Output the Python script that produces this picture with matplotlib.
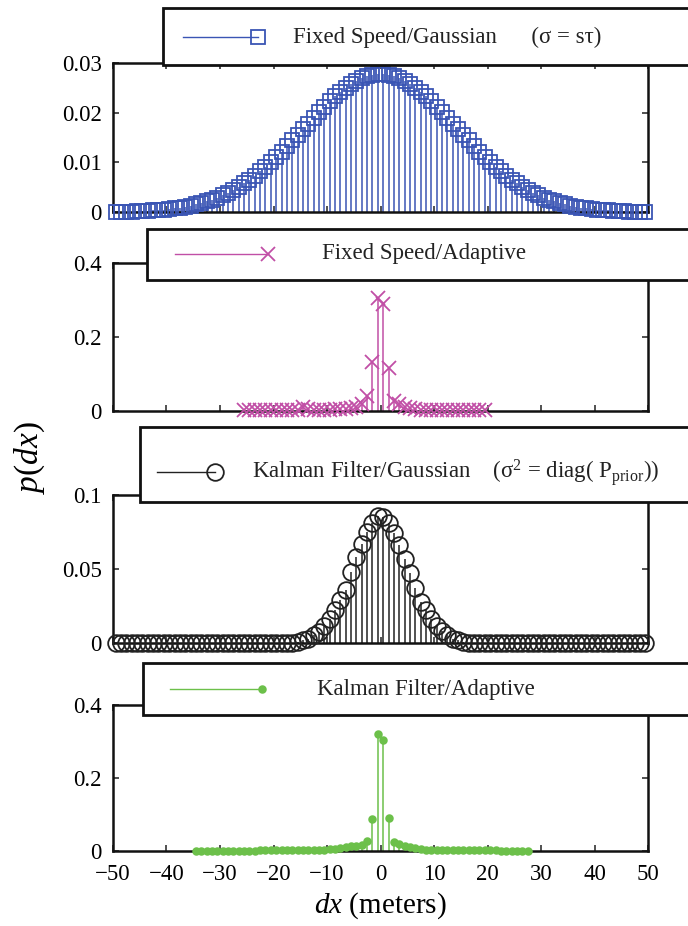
import numpy as np
import matplotlib
matplotlib.use("Agg")
import matplotlib.pyplot as plt
from matplotlib.patches import Rectangle
from matplotlib.lines import Line2D

plt.rcParams['font.family'] = ['Liberation Serif', 'DejaVu Serif']
plt.rcParams['mathtext.fontset'] = 'custom'
plt.rcParams['mathtext.rm'] = 'Liberation Serif'
plt.rcParams['mathtext.it'] = 'Liberation Serif:italic'

# bins (meters), centred on half metres
dx_full = np.arange(-49.5, 50.0, 1.0)
dx_fs_adapt = np.arange(-25.5, 20.0, 1.0)
dx_kf_adapt = np.arange(-34.5, 28.0, 1.0)

# Fixed Speed / Gaussian
p_fs_gauss = [
    0.0001, 0.0001, 0.0001, 0.0001, 0.0002, 0.0002, 0.0003, 0.0004, 0.0004, 0.0005,
    0.0006, 0.0008, 0.0009, 0.0011, 0.0013, 0.0016, 0.0018, 0.0022, 0.0025, 0.0029,
    0.0034, 0.0039, 0.0045, 0.0051, 0.0058, 0.0065, 0.0073, 0.0082, 0.0091, 0.0100,
    0.0111, 0.0121, 0.0132, 0.0144, 0.0155, 0.0167, 0.0178, 0.0190, 0.0201, 0.0212,
    0.0223, 0.0233, 0.0242, 0.0250, 0.0257, 0.0264, 0.0269, 0.0273, 0.0275, 0.0277,
    0.0277, 0.0275, 0.0273, 0.0269, 0.0264, 0.0257, 0.0250, 0.0242, 0.0233, 0.0223,
    0.0212, 0.0201, 0.0190, 0.0178, 0.0167, 0.0155, 0.0144, 0.0132, 0.0121, 0.0111,
    0.0100, 0.0091, 0.0082, 0.0073, 0.0065, 0.0058, 0.0051, 0.0045, 0.0039, 0.0034,
    0.0029, 0.0025, 0.0022, 0.0018, 0.0016, 0.0013, 0.0011, 0.0009, 0.0008, 0.0006,
    0.0005, 0.0004, 0.0004, 0.0003, 0.0002, 0.0002, 0.0001, 0.0001, 0.0001, 0.0001,
]

# Fixed Speed / Adaptive
p_fs_adapt = [
    0.002, 0.002, 0.002, 0.002, 0.002, 0.002, 0.002, 0.002, 0.002, 0.003,
    0.004, 0.012, 0.005, 0.004, 0.004, 0.004, 0.004, 0.005, 0.005, 0.006,
    0.007, 0.010, 0.020, 0.040, 0.132, 0.305, 0.288, 0.117, 0.028, 0.019,
    0.012, 0.008, 0.006, 0.004, 0.003, 0.003, 0.002, 0.002, 0.002, 0.002,
    0.002, 0.002, 0.002, 0.002, 0.002, 0.002,
]

# Kalman Filter / Gaussian
p_kf_gauss = [
    0.0, 0.0, 0.0, 0.0, 0.0, 0.0, 0.0, 0.0, 0.0, 0.0,
    0.0, 0.0, 0.0, 0.0, 0.0, 0.0, 0.0, 0.0, 0.0, 0.0,
    0.0, 0.0, 0.0, 0.0, 0.0, 0.0, 0.0, 0.0, 0.0, 0.0,
    0.0, 0.0, 0.0, 0.0, 0.001, 0.002, 0.003, 0.0054, 0.0077, 0.0115,
    0.0165, 0.022, 0.029, 0.036, 0.048, 0.058, 0.067, 0.075, 0.081, 0.086,
    0.085, 0.081, 0.074, 0.066, 0.057, 0.047, 0.037, 0.028, 0.022, 0.016,
    0.0115, 0.0078, 0.0053, 0.003, 0.002, 0.001, 0.0, 0.0, 0.0, 0.0,
    0.0, 0.0, 0.0, 0.0, 0.0, 0.0, 0.0, 0.0, 0.0, 0.0,
    0.0, 0.0, 0.0, 0.0, 0.0, 0.0, 0.0, 0.0, 0.0, 0.0,
    0.0, 0.0, 0.0, 0.0, 0.0, 0.0, 0.0, 0.0, 0.0, 0.0,
]

# Kalman Filter / Adaptive
p_kf_adapt = [
    0.001, 0.001, 0.001, 0.001, 0.001, 0.001, 0.001, 0.001, 0.001, 0.001,
    0.001, 0.001, 0.0015, 0.0015, 0.0015, 0.0015, 0.0015, 0.0015, 0.0015, 0.002,
    0.002, 0.0025, 0.003, 0.003, 0.004, 0.005, 0.006, 0.008, 0.010, 0.013,
    0.015, 0.017, 0.027, 0.087, 0.320, 0.305, 0.090, 0.026, 0.020, 0.015,
    0.010, 0.008, 0.005, 0.004, 0.003, 0.003, 0.003, 0.0025, 0.0025, 0.002,
    0.002, 0.002, 0.002, 0.0015, 0.0015, 0.0015, 0.0015, 0.001, 0.001, 0.001,
    0.001, 0.001, 0.001,
]

labels = [
    'Fixed Speed/Gaussian      (σ = sτ)',
    'Fixed Speed/Adaptive',
    'Kalman Filter/Gaussian    (σ$^{2}$ = diag( P$_{\\mathrm{prior}}$))',
    'Kalman Filter/Adaptive',
]

W, H = 688, 926
fig = plt.figure(figsize=(W / 100, H / 100), dpi=100)


def fx(px):
    return px / W


def fy(py):
    return 1 - py / H


panels = [
    # (x, y, color, marker, size, filled, ylim, yticks, yticklabels, top px, bottom px,
    #  box left, box top, box bottom, handle x0, x1, y, text x)
    (dx_full, p_fs_gauss, '#3a55b4', 's', 9.5, False, 0.03, [0, 0.01, 0.02, 0.03],
     ['0', '0.01', '0.02', '0.03'], 63, 212, 163, 8, 65, 183, 258, 37, 293),
    (dx_fs_adapt, p_fs_adapt, '#c14fa6', 'x', 9.5, False, 0.4, [0, 0.2, 0.4],
     ['0', '0.2', '0.4'], 263, 411, 147, 229, 280, 175, 268, 254, 322),
    (dx_full, p_kf_gauss, '#222222', 'o', 12, False, 0.1, [0, 0.05, 0.1],
     ['0', '0.05', '0.1'], 495, 643, 140, 427, 502, 157, 215, 472, 252),
    (dx_kf_adapt, p_kf_adapt, '#6cc04a', 'o', 4.8, True, 0.4, [0, 0.2, 0.4],
     ['0', '0.2', '0.4'], 705, 851, 143, 663, 715, 170, 262, 689, 317),
]

left, right = 113, 648
for i, (x, y, col, mk, ms, filled, ymax, yt, ytl, top, bot,
        bx, btop, bbot, hx0, hx1, hy, tx) in enumerate(panels):
    ax = fig.add_axes([fx(left), fy(bot), fx(right - left), (bot - top) / H])
    ax.vlines(x, 0, y, color=col, lw=1.1, zorder=2)
    mfc = col if filled else 'none'
    ax.plot(x, y, ls='none', marker=mk, ms=ms, mfc=mfc, mec=col, mew=1.3,
            clip_on=False, zorder=3)
    ax.set_xlim(-50, 50)
    ax.set_ylim(0, ymax)
    ax.set_yticks(yt)
    ax.set_yticklabels(ytl)
    ax.set_xticks(np.arange(-50, 51, 10))
    ax.tick_params(direction='in', top=True, right=True, length=4, width=1.2,
                   labelsize=16.5, color='#333333')
    ax.tick_params(axis='y', pad=8)
    ax.tick_params(axis='x', pad=9)
    if i < 3:
        ax.set_xticklabels([])
    for s in ax.spines.values():
        s.set_linewidth(1.8)
        s.set_color('#111111')

    # legend box sticking out to the right, like the original
    fig.add_artist(Rectangle((fx(bx), fy(bbot)), 0.9, (bbot - btop) / H,
                             transform=fig.transFigure, facecolor='white',
                             edgecolor='#111111', lw=2.0, zorder=5))
    fig.add_artist(Line2D([fx(hx0), fx(hx1)], [fy(hy), fy(hy)],
                          transform=fig.transFigure, color=col, lw=1.0,
                          marker=mk, ms=ms, mfc=mfc, mec=col, mew=1.3,
                          markevery=[1], zorder=6))
    fig.text(fx(tx), fy(hy), labels[i], ha='left', va='center', fontsize=16.5,
             color='#222222', zorder=7)

fig.text(fx(30), fy(458), '$p(dx)$', rotation=90, ha='center', va='center',
         fontsize=24)
fig.text(fx(380), fy(906), '$dx$ (meters)', ha='center', va='center',
         fontsize=21)

fig.savefig('out.png', dpi=100)
